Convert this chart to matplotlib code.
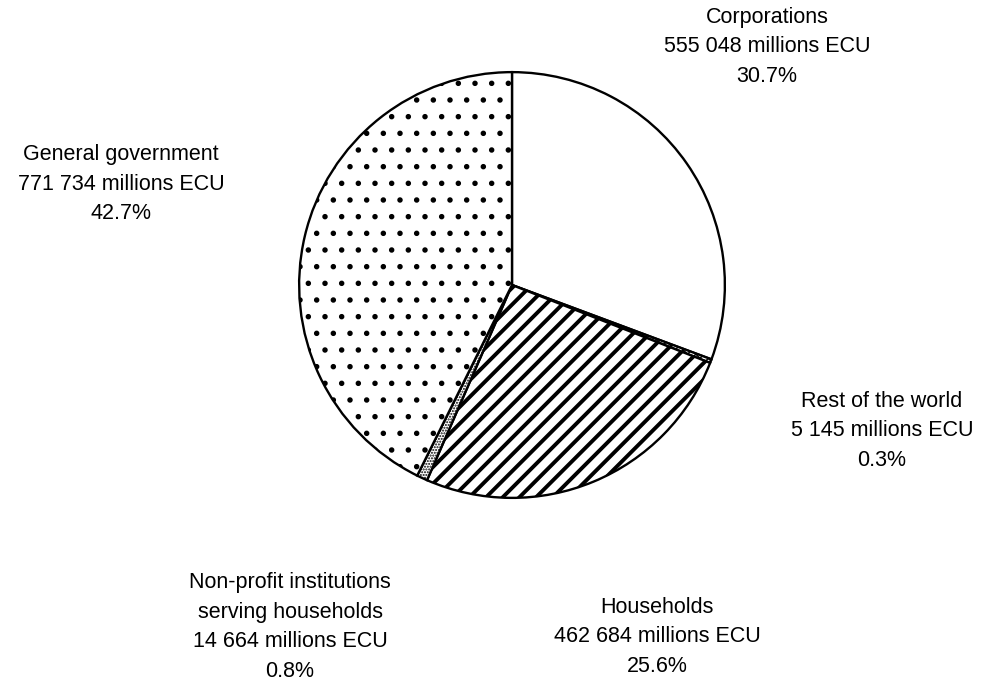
import matplotlib
matplotlib.use("Agg")
import matplotlib.pyplot as plt

# ---- data ----
sectors = ["Corporations", "Rest of the world", "Households",
           "Non-profit institutions\nserving households", "General government"]
values_mecu = [555048, 5145, 462684, 14664, 771734]
value_labels = ["555 048", "5 145", "462 684", "14 664", "771 734"]
percent_labels = ["30.7%", "0.3%", "25.6%", "0.8%", "42.7%"]

# ---- style ----
hatches = ["", "xxxx", "//", "......", "."]
label_pos_px = [(767, 47), (882, 431), (657, 637), (290, 627), (121, 184)]

plt.rcParams["font.family"] = ["Liberation Sans", "DejaVu Sans"]
plt.rcParams["hatch.linewidth"] = 1.0

W, H = 990, 688
fig = plt.figure(figsize=(W / 100, H / 100), dpi=100)
fig.patch.set_facecolor("white")

cx, cy, r = 512, 285, 215
ax = fig.add_axes([(cx - r) / W, 1 - (cy + r) / H, 2 * r / W, 2 * r / H])

wedges, _ = ax.pie(values_mecu, startangle=90, counterclock=False,
                   colors=["white"] * len(values_mecu),
                   wedgeprops=dict(edgecolor="black", linewidth=1.7))
for w, h in zip(wedges, hatches):
    w.set_hatch(h)
    if h == "//":
        try:
            w.set_hatch_linewidth(2.8)
        except Exception:
            pass
    if h == ".":
        try:
            w.set_hatch_linewidth(1.5)
        except Exception:
            pass
ax.set_aspect("auto")
ax.set_xlim(-1.01, 1.01)
ax.set_ylim(-1.01, 1.01)
ax.axis("off")

for name, val, pct, (px, py) in zip(sectors, value_labels, percent_labels, label_pos_px):
    txt = f"{name}\n{val} millions ECU\n{pct}"
    fig.text(px / W, 1 - py / H, txt, ha="center", va="center",
             fontsize=15.5, linespacing=1.54, color="black")

fig.savefig("out.png", dpi=100, facecolor="white")
